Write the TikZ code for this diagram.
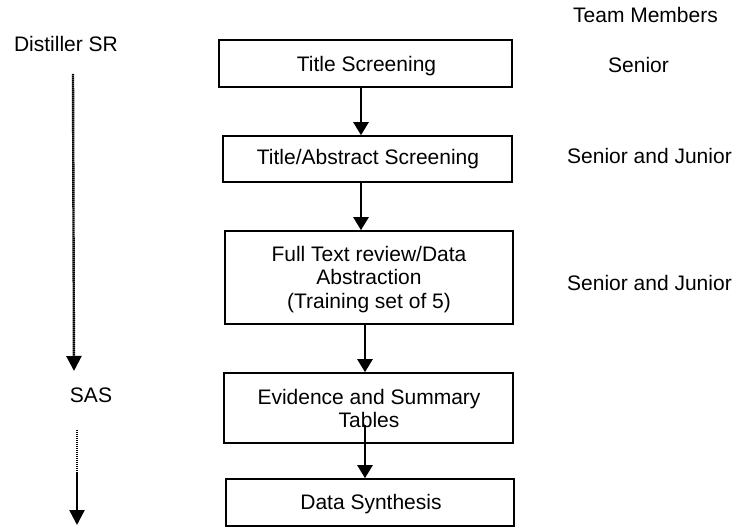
\documentclass[tikz,border=0pt]{standalone}
\usepackage{fontspec}
\setmainfont{Liberation Sans}
\usetikzlibrary{arrows.meta}
\begin{document}
\begin{tikzpicture}[x=1pt,y=-1pt,
  box/.style={draw=black,line width=1.6pt,rectangle,inner sep=0pt},
  txt/.style={inner sep=0pt,anchor=base,align=center,font=\fontsize{21}{23.5}\selectfont},
  arr/.style={line width=2.5pt,-{Triangle[width=15pt,length=13pt]}},
  dotarr/.style={line width=2.4pt,dash pattern=on 1.5pt off 0.5pt,-{Triangle[width=15pt,length=15pt]}}]
\useasboundingbox (0,0) rectangle (737,529);
% boxes
\node[box,minimum width=293pt,minimum height=47pt] (b1) at (365.5,63.5) {};
\node[box,minimum width=289pt,minimum height=46pt] (b2) at (367.5,159) {};
\node[box,minimum width=288pt,minimum height=93pt] (b3) at (369,277.5) {};
\node[box,minimum width=289pt,minimum height=70pt] (b4) at (368.5,408) {};
\node[box,minimum width=288pt,minimum height=47pt] (b5) at (370,502.5) {};
% box texts
\node[txt] (t1) at (366.5,72) {Title Screening};
\node[txt] (t2) at (368,165) {Title/Abstract Screening};
\node[txt] (t3) at (369,308.5) {Full Text review/Data\\Abstraction\\(Training set of 5)};
\node[txt] (t4) at (369,428) {Evidence and Summary\\Tables};
\node[txt] (t5) at (371,510) {Data Synthesis};
% side texts
\node[txt] (dsr) at (66,52) {Distiller SR};
\node[txt] (sas) at (91,403) {SAS};
\node[txt] (team) at (645.5,23) {Team Members};
\node[txt] (r1) at (638.5,73) {Senior};
\node[txt] (r2) at (649.5,164) {Senior and Junior};
\node[txt] (r3) at (649.5,291) {Senior and Junior};
% flow arrows
\coordinate (c1) at (361,0);
\coordinate (c2) at (365,0);
\coordinate (s4) at (365,425);
\draw[arr] (b1.south -| c1) -- (b2.north -| c1);
\draw[arr] (b2.south -| c1) -- (b3.north -| c1);
\draw[arr] (b3.south -| c2) -- (b4.north -| c2);
\draw[arr] (s4) -- (b5.north -| s4);
% dotted tool arrows
\coordinate (d1s) at (73,74);
\coordinate (d1e) at (74,371);
\coordinate (d2s) at (77,430);
\coordinate (d2e) at (77,525);
\draw[dotarr] (d1s) -- (d1e);
\draw[dotarr] (d2s) -- (d2e);
\end{tikzpicture}
\end{document}
